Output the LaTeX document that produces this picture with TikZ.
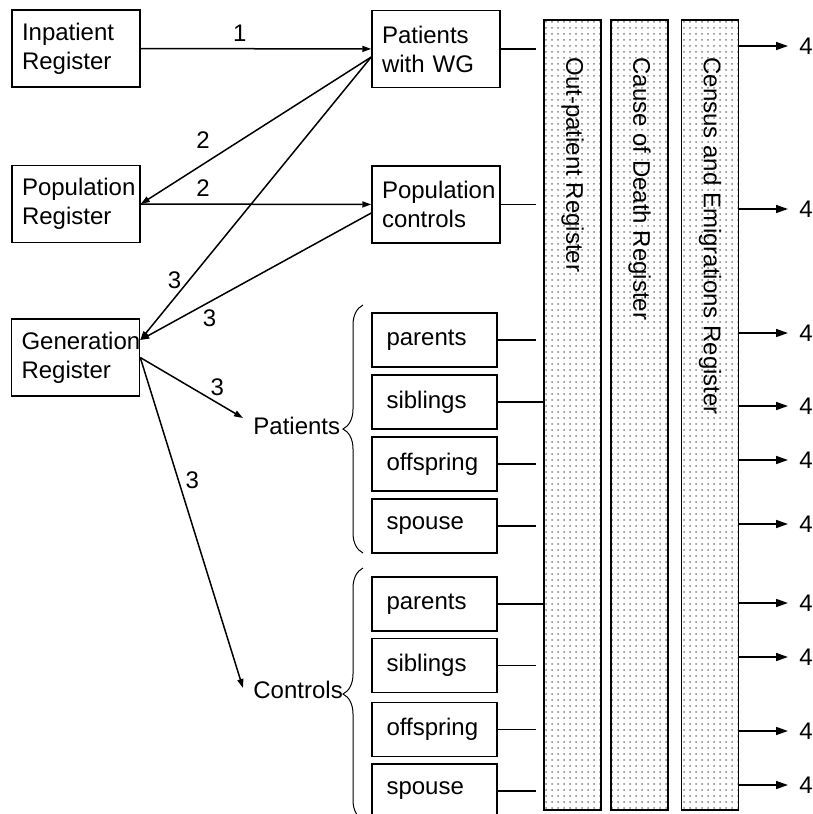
\documentclass[tikz,border=0pt]{standalone}
\usepackage{fontspec}
\setmainfont{Liberation Sans}
\usetikzlibrary{arrows.meta,patterns,decorations.pathreplacing}

\begin{document}
\begin{tikzpicture}
    [
    x=0.5pt, y=-0.5pt,
    every node/.style={font=\fontsize{12}{14.5}\selectfont},
    box/.style={
        rectangle,
        draw=black,
        line width=0.75pt,
        minimum width=64pt,
        minimum height=38.5pt,
        text width=54pt,
        inner xsep=5pt,
        align=left
    },
    rel/.style={box, minimum width=62.5pt, minimum height=27pt, text width=48pt, inner xsep=7.25pt},
    bar/.style={rectangle, draw=black, line width=0.75pt, pattern=dots, pattern color=black!50,
        minimum width=28.5pt, minimum height=395pt, inner sep=0pt},
    bartext/.style={rotate=-90, anchor=west, inner sep=0pt},
    four/.style={anchor=west, inner xsep=5.5pt},
    arrow/.style={-{Triangle[length=4.5pt,width=3pt]}, line width=0.75pt},
    outarrow/.style={-{Triangle[length=6pt,width=4pt]}, line width=0.75pt},
    feed/.style={line width=0.75pt, shorten >=3.5pt},
    brace/.style={decorate, decoration={brace, amplitude=10pt}, line width=0.5pt}
    ]
    \useasboundingbox (0,0) rectangle (813,814);

% Source registers
    \node[box] (inp) at (76,48.5) {Inpatient Register};
    \node[box] (poreg) at (76,204) {Population Register};
    \node[box] (gen) at (75.5,357.5) {Generation Register};

% Study groups
    \node[box] (pwg) at (436,49) {Patients with WG};
    \node[box] (pocon) at (436,204.5) {Population controls};
    \node[anchor=west, inner sep=0pt] (pat) at (253,426) {Patients};
    \node[anchor=west, inner sep=0pt] (con) at (253,690) {Controls};

    \foreach \n/\t/\y in {ppar/parents/340, psib/siblings/402, poff/offspring/464, pspo/spouse/526,
                          cpar/parents/604, csib/siblings/665.5, coff/offspring/729.5, cspo/spouse/791}
        \node[rel] (\n) at (434.5,\y) {\t};

    \draw[brace] (363,553) -- (363,305);
    \draw[brace] (363,820) -- (363,568);

% Follow-up registers
    \node[bar] (opr) at (572.5,415) {};
    \node[bar] (cdr) at (639.5,415) {};
    \node[bar] (cer) at (710,415) {};
    \node[bartext] (oprt) at (572.5,57) {Out-patient Register};
    \node[bartext] (cdrt) at (639.5,57) {Cause of Death Register};
    \node[bartext] (cert) at (710,57) {Census and Emigrations Register};

% Linkages
    \coordinate (pwgout) at ([yshift=-4pt]pwg.west);
    \coordinate (genin) at ([yshift=8.75pt]gen.east);

    \draw[arrow] (inp) -- node[pos=.43, above] {1} (pwg);
    \draw[arrow] (pwgout) -- node[pos=.73, above=4pt] {2} (poreg.east);
    \draw[arrow] (poreg) -- node[pos=.27, above] {2} (pocon);
    \draw[arrow] (pwgout) -- node[pos=.79, left] {3} (genin);
    \draw[arrow] ([yshift=-4.25pt]pocon.west) -- node[pos=.70, below] {3} (genin);
    \draw[arrow] (gen.east) -- node[pos=.75, above] {3} ([xshift=-5pt,yshift=4pt]pat.west);
    \draw[arrow] (gen.east) -- node[pos=.37, right] {3} ([xshift=-5pt,yshift=1pt]con.west);

    \foreach \n in {pwg, pocon, ppar, poff, pspo, csib, coff, cspo}
        \draw[feed] (\n.east) -- (\n.east -| opr.west);
    \foreach \n in {psib, cpar}
        \draw[feed, shorten >=0pt] (\n.east) -- (\n.east -| opr.west);

% Outcomes
    \foreach \n/\y in {f1/46, f2/209, f3/333, f4/406, f5/460, f6/524, f7/603, f8/657, f9/731, f10/785} {
        \node[four] (\n) at (788,\y) {4};
        \draw[outarrow] (cer.east |- \n) -- (\n.west);
    }

\end{tikzpicture}
\end{document}
